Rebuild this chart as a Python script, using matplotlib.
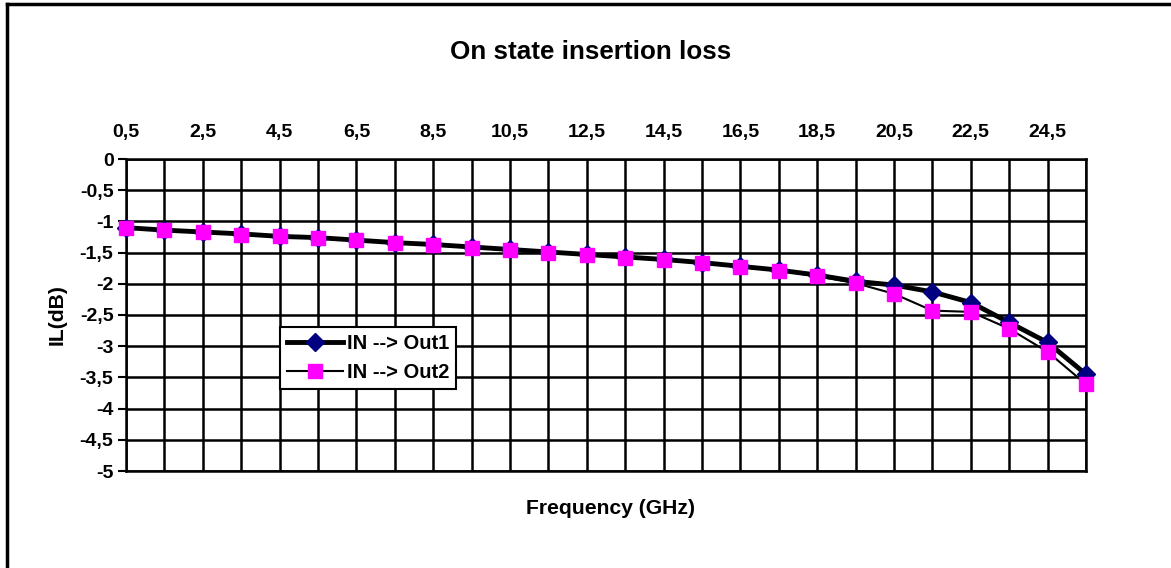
import matplotlib
matplotlib.use("Agg")
import matplotlib.pyplot as plt
from matplotlib.lines import Line2D

plt.rcParams['font.family'] = ['Liberation Sans', 'DejaVu Sans']
plt.rcParams['font.weight'] = 'bold'

freq = [0.5, 1.5, 2.5, 3.5, 4.5, 5.5, 6.5, 7.5, 8.5, 9.5, 10.5, 11.5, 12.5,
        13.5, 14.5, 15.5, 16.5, 17.5, 18.5, 19.5, 20.5, 21.5, 22.5, 23.5, 24.5, 25.5]
out1 = [-1.10, -1.14, -1.17, -1.20, -1.24, -1.26, -1.30, -1.34, -1.37, -1.41,
        -1.45, -1.49, -1.53, -1.57, -1.61, -1.66, -1.72, -1.78, -1.86, -1.96,
        -2.02, -2.13, -2.30, -2.62, -2.94, -3.45]
out2 = [-1.11, -1.14, -1.17, -1.21, -1.24, -1.26, -1.30, -1.34, -1.38, -1.42,
        -1.46, -1.50, -1.54, -1.58, -1.62, -1.67, -1.73, -1.79, -1.88, -1.99,
        -2.16, -2.43, -2.45, -2.72, -3.09, -3.61]
yticks = [0, -0.5, -1, -1.5, -2, -2.5, -3, -3.5, -4, -4.5, -5]

fig = plt.figure(figsize=(11.71, 5.68), dpi=100)
ax = fig.add_axes([126 / 1171, 1 - 471 / 568, 960 / 1171, 312 / 568])

ax.plot(freq, out1, color='black', lw=3.5, marker='D', ms=9, clip_on=False,
        markerfacecolor='#000080', markeredgecolor='#000080', label='IN --> Out1', zorder=3)
ax.plot(freq, out2, color='black', lw=1.5, marker='s', ms=10, clip_on=False,
        markerfacecolor='#ff00ff', markeredgecolor='#ff00ff', label='IN --> Out2', zorder=4)

ax.set_xlim(freq[0], freq[-1])
ax.set_ylim(-5, 0)
ax.set_xticks(freq)
ax.set_xticklabels([('%g' % f).replace('.', ',') if i % 2 == 0 else '' for i, f in enumerate(freq)])
ax.set_yticks(yticks)
ax.set_yticklabels([('%g' % v).replace('.', ',') for v in yticks])
ax.xaxis.tick_top()
ax.tick_params(axis='x', length=0, labelsize=14, pad=13)
ax.tick_params(axis='y', length=6, width=1.5, labelsize=14, pad=3)
ax.grid(True, color='black', lw=1.8)
for s in ax.spines.values():
    s.set_linewidth(1.8)

fig.text(0.504, 1 - 52 / 568, 'On state insertion loss', ha='center', va='center',
         fontsize=18.7, fontweight='bold')
fig.text(0.521, 1 - 508 / 568, 'Frequency (GHz)', ha='center', va='center',
         fontsize=15.2, fontweight='bold')
fig.text(57 / 1171, 1 - 315 / 568, 'IL(dB)', ha='center', va='center', rotation=90,
         fontsize=15.2, fontweight='bold')

leg = ax.legend(loc='upper left', bbox_to_anchor=(0.16, 0.4615), borderaxespad=0,
                fancybox=False, framealpha=1, edgecolor='black', fontsize=14.5,
                handlelength=2.8, handletextpad=0.2, borderpad=0.35, labelspacing=0.5)
leg.get_frame().set_linewidth(1.5)

fig.add_artist(Line2D([7 / 1171, 7 / 1171], [0, 1 - 4 / 568], color='black', lw=2.5))
fig.add_artist(Line2D([7 / 1171, 1], [1 - 4 / 568, 1 - 4 / 568], color='black', lw=2.5))

fig.savefig('out.png', dpi=100)
